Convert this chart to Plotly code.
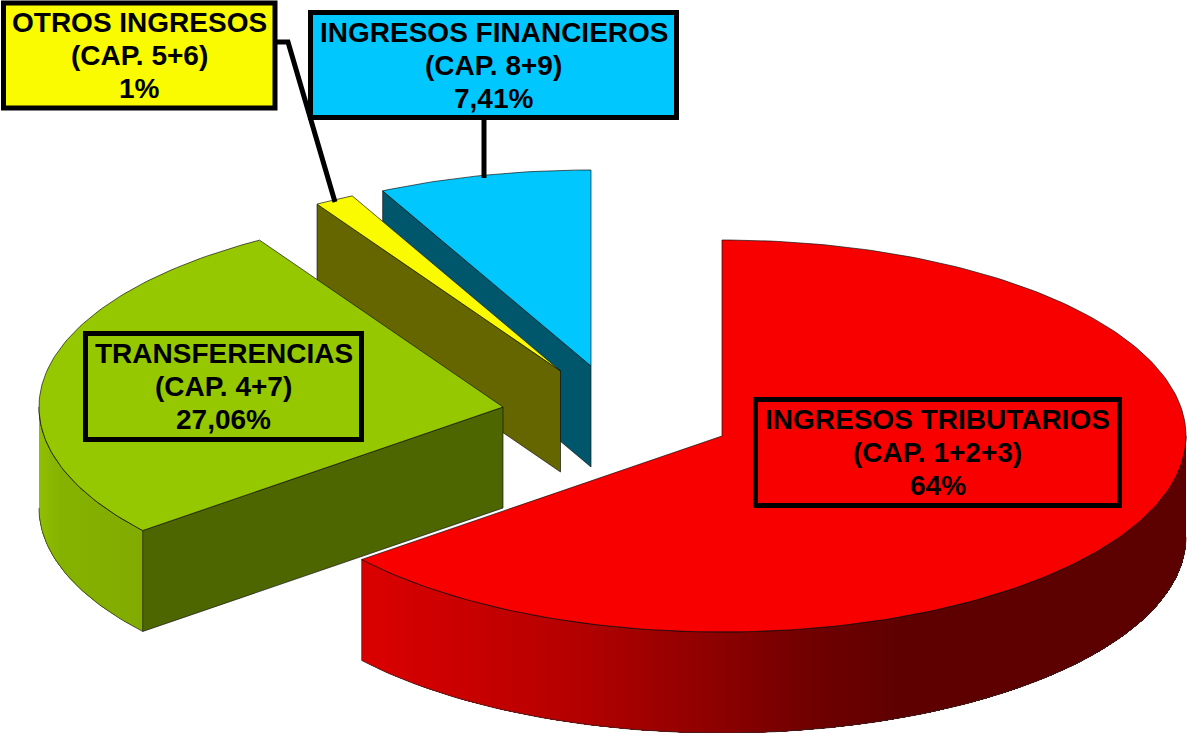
import math
import plotly.graph_objects as go

# ---- data -------------------------------------------------------------
categories = ["INGRESOS TRIBUTARIOS", "TRANSFERENCIAS", "OTROS INGRESOS", "INGRESOS FINANCIEROS"]
chapters = ["(CAP. 1+2+3)", "(CAP. 4+7)", "(CAP. 5+6)", "(CAP. 8+9)"]
value_labels = ["64%", "27,06%", "1%", "7,41%"]
shares = [64.15, 27.06, 1.38, 7.41]   # geometric shares

top_colors = ["#F90000", "#96C800", "#FAFA00", "#00C8FF"]
face_colors = [None, "#4D6600", "#666600", "#00566B"]
label_fills = top_colors

# ---- projection --------------------------------------------------------
RX, RY, DEPTH = 464, 196, 101
apex = [(722, 436), (503, 407), (560.5, 371), (591, 366)]   # exploded slice apexes
OUT = "rgba(15,15,15,0.85)"

angles = []
a = 0.0
for s in shares:
    angles.append((a, a + s * 3.6))
    a += s * 3.6


def pt(c, deg, dz=0):
    t = math.radians(deg)
    return c[0] + RX * math.sin(t), c[1] - RY * math.cos(t) + dz


def arc(c, a0, a1, dz=0, step=1.0):
    n = max(2, int(abs(a1 - a0) / step) + 1)
    return [pt(c, a0 + (a1 - a0) * i / (n - 1), dz) for i in range(n)]


fig = go.Figure()


def poly(points, fill, line=None, width=1.0, closed=True):
    xs = [p[0] for p in points]
    ys = [p[1] for p in points]
    if closed:
        xs.append(xs[0])
        ys.append(ys[0])
    fig.add_trace(go.Scatter(
        x=xs, y=ys, mode="lines", fill="toself" if fill else "none",
        fillcolor=fill, line=dict(color=line or fill or "black", width=width),
        hoverinfo="skip", showlegend=False))


def lerp_color(stops, v):
    if v <= stops[0][0]:
        return stops[0][1]
    for (v0, c0), (v1, c1) in zip(stops, stops[1:]):
        if v <= v1:
            f = (v - v0) / (v1 - v0)
            return tuple(c0[i] + (c1[i] - c0[i]) * f for i in range(3))
    return stops[-1][1]


def wall(c, a0, a1, stops, step=1.5):
    """Painter's gradient: each band runs on to the wall's far end, so no seams."""
    n = max(2, int(abs(a1 - a0) / step) + 1)
    for i in range(n - 1):
        u0 = a0 + (a1 - a0) * i / (n - 1)
        u1 = a0 + (a1 - a0) * (i + 1) / (n - 1)
        xm = pt(c, (u0 + u1) / 2)[0]
        rgb = "rgb(%d,%d,%d)" % lerp_color(stops, xm)
        poly(arc(c, u0, a1) + arc(c, a1, u0, DEPTH), rgb, None, 0)
    poly(arc(c, a0, a1), None, OUT, 1.0, closed=False)
    poly(arc(c, a0, a1, DEPTH), None, "rgba(40,40,40,0.7)", 1.0, closed=False)


def cut_face(i, deg):
    c = apex[i]
    e = pt(c, deg)
    poly([c, e, (e[0], e[1] + DEPTH), (c[0], c[1] + DEPTH)], face_colors[i], OUT, 0.8)


def top(i):
    c = apex[i]
    a0, a1 = angles[i]
    poly([c] + arc(c, a0, a1), top_colors[i], OUT, 0.8)


# back to front
cut_face(3, angles[3][0])
top(3)
cut_face(2, angles[2][0])
top(2)

wall(apex[1], angles[1][0], 270,
     [(39, (0x90, 0xC0, 0x00)), (60, (0x86, 0xB3, 0x00)), (143, (0x82, 0xAB, 0x00))])
cut_face(1, angles[1][0])
top(1)

wall(apex[0], angles[0][1], 90,
     [(362, (0xDC, 0, 0)), (560, (0xB8, 0, 0)), (720, (0x8C, 0, 0)),
      (820, (0x6E, 0, 0)), (900, (0x60, 0, 0)), (1186, (0x5C, 0, 0))])
top(0)
e = pt(apex[0], angles[0][1])
poly([e, (e[0], e[1] + DEPTH)], None, "rgba(40,40,40,0.7)", 1.0, closed=False)

# ---- labels ------------------------------------------------------------
boxes = [(755.5, 399.5, 1119.5, 505.5), (85.5, 333.5, 361.5, 439.5),
         (3.5, 3, 275, 108), (310.5, 12.5, 676.5, 117.5)]
LINE = 33

shapes = [
    dict(type="path", path="M 277 42 L 288 42 L 335 202", xref="x", yref="y",
         line=dict(color="black", width=5)),
    dict(type="line", x0=484, x1=484, y0=118, y1=178, xref="x", yref="y",
         line=dict(color="black", width=5)),
]
annotations = []
for i, (x0, y0, x1, y1) in enumerate(boxes):
    shapes.append(dict(type="rect", x0=x0, y0=y0, x1=x1, y1=y1, xref="x", yref="y",
                       fillcolor=label_fills[i], line=dict(color="black", width=5)))
    for k, t in enumerate((categories[i], chapters[i], value_labels[i])):
        annotations.append(dict(
            x=(x0 + x1) / 2, y=(y0 + y1) / 2 + (k - 1) * LINE, xref="x", yref="y",
            yanchor="middle", showarrow=False, text="<b>%s</b>" % t,
            font=dict(family="Liberation Sans", size=28, color="black")))

fig.update_layout(
    width=1187, height=733, margin=dict(l=0, r=0, t=0, b=0),
    paper_bgcolor="white", plot_bgcolor="white", showlegend=False,
    xaxis=dict(range=[0, 1187], visible=False, fixedrange=True),
    yaxis=dict(range=[733, 0], visible=False, fixedrange=True),
    shapes=shapes, annotations=annotations)

fig.write_html("out.html", config={"displayModeBar": False},
               post_script="document.body.style.margin='0';document.body.style.overflow='hidden';")
